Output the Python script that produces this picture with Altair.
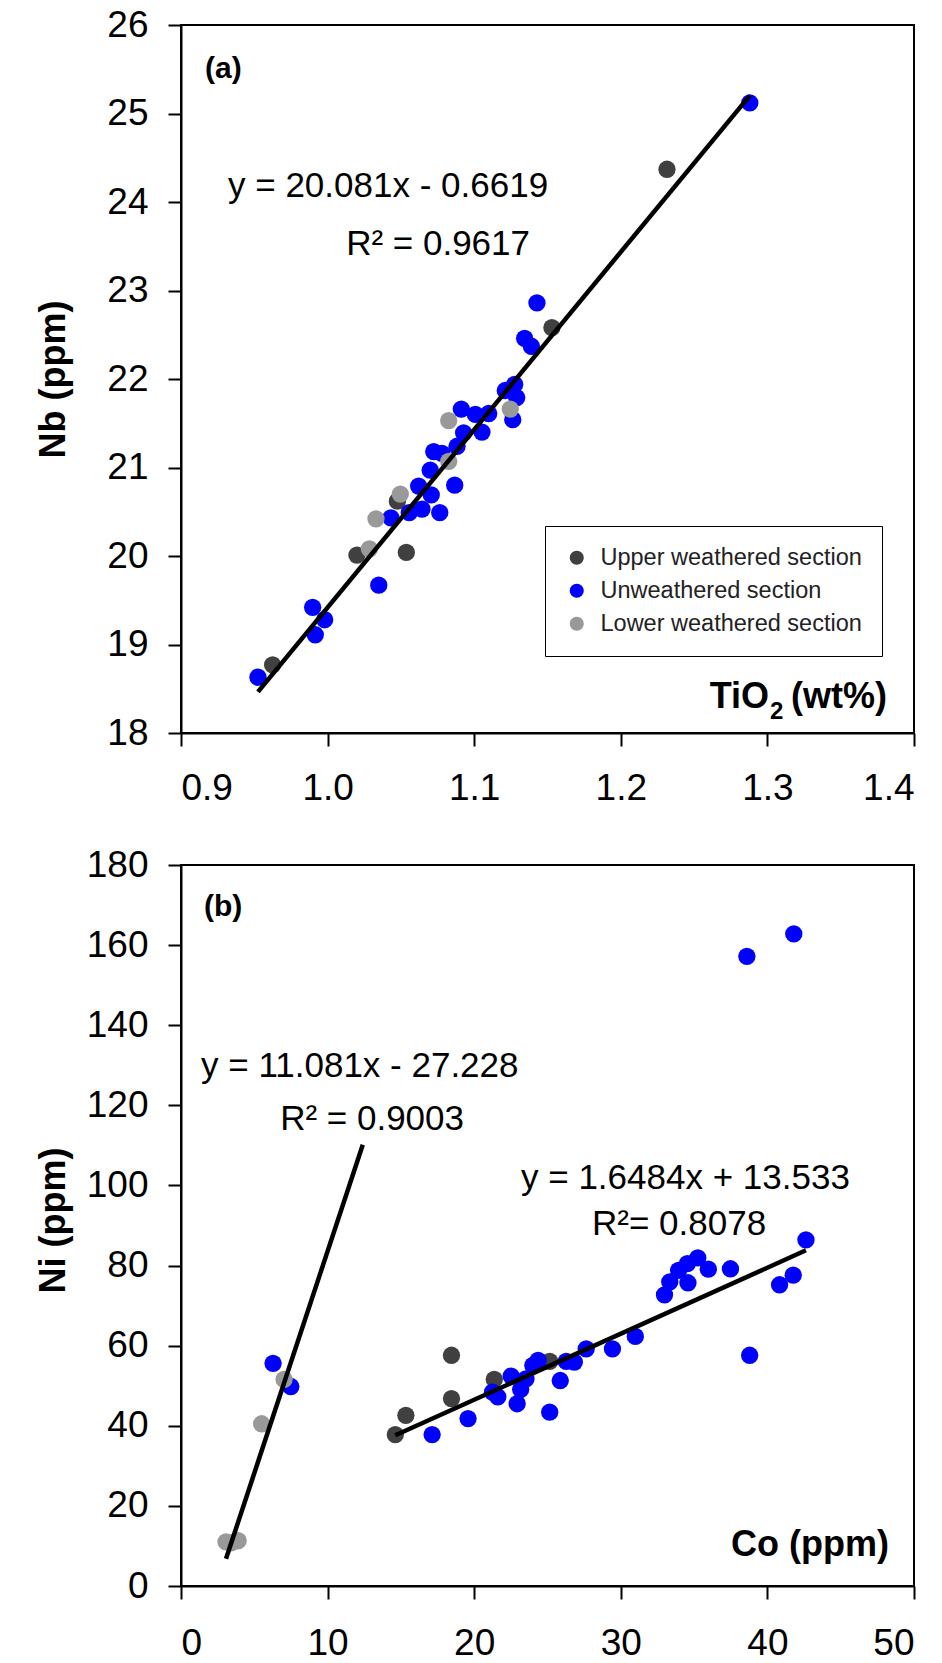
import altair as alt
import pandas as pd

FONT = "Liberation Sans"
GROUPS = ["Upper weathered section", "Unweathered section", "Lower weathered section"]
COLORS = ["#404040", "#0000ff", "#999999"]

# ---------------- Panel (a): TiO2 (wt%) vs Nb (ppm) ----------------
a_upper_tio2 = [0.9625, 1.020, 1.0537, 1.0476, 1.153, 1.2315]
a_upper_nb = [18.77, 20.01, 20.04, 20.62, 22.58, 24.37]

a_unw_tio2 = [0.9525, 0.9898, 0.998, 0.9916, 1.0349, 1.0432, 1.0557, 1.0621, 1.0644,
              1.0707, 1.0765, 1.070, 1.0867, 1.0724, 1.078, 1.0883, 1.0928, 1.0912,
              1.1008, 1.1053, 1.1099, 1.1263, 1.1276, 1.1212, 1.129, 1.1344, 1.139,
              1.1428, 1.288]
a_unw_nb = [18.63, 19.42, 19.28, 19.11, 19.67, 20.43, 20.49, 20.79, 20.53,
            20.69, 20.49, 20.97, 20.80, 21.18, 21.16, 21.24, 21.39, 21.66,
            21.60, 21.40, 21.61, 21.54, 21.94, 21.87, 21.79, 22.46, 22.37,
            22.86, 25.12]

a_lower_tio2 = [1.0285, 1.033, 1.0496, 1.0826, 1.0826, 1.1246]
a_lower_nb = [20.08, 20.42, 20.70, 21.07, 21.53, 21.66]

a_fit_slope, a_fit_intercept = 20.081, -0.6619
a_fit_range = [0.9525, 1.288]

# ---------------- Panel (b): Co (ppm) vs Ni (ppm) ----------------
b_upper_co = [14.62, 15.34, 18.45, 18.45, 21.37, 25.15]
b_upper_ni = [37.8, 42.6, 46.8, 57.6, 51.6, 56.1]

b_unw_co = [6.28, 7.49, 17.13, 19.58, 21.61, 21.25, 22.52, 22.93, 23.17, 23.53, 24.0,
            24.36, 25.15, 25.87, 26.28, 26.83, 27.64, 29.43, 30.99, 32.98, 33.34,
            33.94, 34.58, 34.54, 35.25, 35.97, 37.48, 38.79, 40.83, 41.76, 42.63,
            38.6, 41.8]
b_unw_ni = [55.6, 49.8, 37.8, 41.8, 47.2, 48.4, 52.4, 45.5, 49.1, 51.7, 55.1,
            56.3, 43.4, 51.3, 56.1, 55.9, 59.2, 59.2, 62.3, 72.7, 75.9,
            78.8, 75.7, 80.5, 81.9, 79.1, 79.2, 57.6, 75.2, 77.6, 86.4,
            157.2, 162.8]

b_lower_co = [3.07, 3.45, 3.9, 5.5, 7.03]
b_lower_ni = [11.0, 10.8, 11.3, 40.5, 51.6]

b_fit1_slope, b_fit1_intercept = 11.081, -27.228
b_fit1_range = [3.07, 12.4]
b_fit2_slope, b_fit2_intercept = 1.6484, 13.533
b_fit2_range = [14.62, 42.63]


def points_df(series):
    rows = []
    for grp, xs, ys in series:
        for x, y in zip(xs, ys):
            rows.append({"x": x, "y": y, "group": grp})
    return pd.DataFrame(rows)


def fit_df(rng, slope, intercept):
    return pd.DataFrame({"x": rng, "y": [slope * v + intercept for v in rng]})


def label(text, px, py, size=35, weight="normal", align="left"):
    return alt.Chart(pd.DataFrame({"k": [0]})).mark_text(
        text=text, font=FONT, fontSize=size, fontWeight=weight, align=align,
        baseline="alphabetic", color="black"
    ).encode(x=alt.value(px), y=alt.value(py))


W = 733
HA = 708
HB = 721
PT = 300
LW = 4.5

# ---- panel a ----
da = points_df([(GROUPS[0], a_upper_tio2, a_upper_nb),
                (GROUPS[1], a_unw_tio2, a_unw_nb),
                (GROUPS[2], a_lower_tio2, a_lower_nb)])
xa = alt.X("x:Q", scale=alt.Scale(domain=[0.9, 1.4], nice=False, zero=False),
           axis=alt.Axis(values=[0.9, 1.0, 1.1, 1.2, 1.3, 1.4], format=".1f",
                         labelPadding=24, title=None))
ya = alt.Y("y:Q", scale=alt.Scale(domain=[18, 26], nice=False, zero=False),
           axis=alt.Axis(values=list(range(18, 27)), format="d", labelPadding=20,
                         title="Nb (ppm)", titleX=-109, titleY=354, titleAngle=270,
                         titleBaseline="bottom", titleAlign="center"))

pts_a = alt.Chart(da).mark_circle(size=PT, opacity=1).encode(
    x=xa, y=ya,
    color=alt.Color("group:N",
                    scale=alt.Scale(domain=GROUPS, range=COLORS),
                    legend=alt.Legend(orient="none", legendX=364, legendY=501, title=None,
                                      strokeColor="black", fillColor="white", padding=20,
                                      labelFontSize=23.5, labelFont=FONT, labelColor="#222222",
                                      labelLimit=500,
                                      symbolSize=200, symbolType="circle", symbolOpacity=1,
                                      symbolStrokeWidth=0, rowPadding=8, labelOffset=12)),
    order=alt.Order("gi:Q")
).transform_calculate(
    gi=f"indexof({GROUPS!r}, datum.group)"
)
line_a = alt.Chart(fit_df(a_fit_range, a_fit_slope, a_fit_intercept)).mark_line(
    color="black", strokeWidth=LW, strokeCap="butt").encode(x="x:Q", y="y:Q")

panel_a = alt.layer(
    pts_a, line_a,
    label("(a)", 24, 53, size=30, weight="bold"),
    label("y = 20.081x - 0.6619", 47, 172),
    label("R² = 0.9617", 349, 230, align="right"),
    label("TiO", 588, 683, size=36, weight="bold", align="right"),
    label("2", 589, 694, size=24, weight="bold"),
    label("(wt%)", 610, 683, size=36, weight="bold"),
).properties(width=W, height=HA)

# ---- panel b ----
db = points_df([(GROUPS[0], b_upper_co, b_upper_ni),
                (GROUPS[1], b_unw_co, b_unw_ni),
                (GROUPS[2], b_lower_co, b_lower_ni)])
xb = alt.X("x:Q", scale=alt.Scale(domain=[0, 50], nice=False, zero=False),
           axis=alt.Axis(values=[0, 10, 20, 30, 40, 50], labelPadding=26, title=None))
yb = alt.Y("y:Q", scale=alt.Scale(domain=[0, 180], nice=False, zero=False),
           axis=alt.Axis(values=list(range(0, 181, 20)), labelPadding=20,
                         title="Ni (ppm)", titleX=-109, titleY=355, titleAngle=270,
                         titleBaseline="bottom", titleAlign="center"))

pts_b = alt.Chart(db).mark_circle(size=PT, opacity=1).encode(
    x=xb, y=yb,
    color=alt.Color("group:N", scale=alt.Scale(domain=GROUPS, range=COLORS), legend=None),
    order=alt.Order("gi:Q")
).transform_calculate(
    gi=f"indexof({GROUPS!r}, datum.group)"
)
line_b1 = alt.Chart(fit_df(b_fit1_range, b_fit1_slope, b_fit1_intercept)).mark_line(
    color="black", strokeWidth=LW, strokeCap="butt").encode(x="x:Q", y="y:Q")
line_b2 = alt.Chart(fit_df(b_fit2_range, b_fit2_slope, b_fit2_intercept)).mark_line(
    color="black", strokeWidth=LW, strokeCap="butt").encode(x="x:Q", y="y:Q")

panel_b = alt.layer(
    pts_b, line_b1, line_b2,
    label("(b)", 23, 51, size=30, weight="bold"),
    label("y = 11.081x - 27.228", 20, 212),
    label("R² = 0.9003", 283, 265, align="right"),
    label("y = 1.6484x + 13.533", 340, 324),
    label("R²= 0.8078", 411, 370),
    label("Co (ppm)", 708, 691, size=36, weight="bold", align="right"),
).properties(width=W, height=HB)

chart = alt.vconcat(panel_a, panel_b, spacing=38).properties(
    padding={"left": 34, "top": 5, "right": 5, "bottom": 5},
    background="white"
).configure_view(
    stroke="black", strokeWidth=2
).configure_axis(
    domainColor="black", domainWidth=2, tickColor="black", tickWidth=2, tickSize=13,
    labelFont=FONT, labelFontSize=37, labelColor="black", grid=False,
    titleFont=FONT, titleFontSize=36, titleFontWeight="bold", titleColor="black"
)

chart.save("out.html", embed_options={"renderer": "svg", "actions": False})
